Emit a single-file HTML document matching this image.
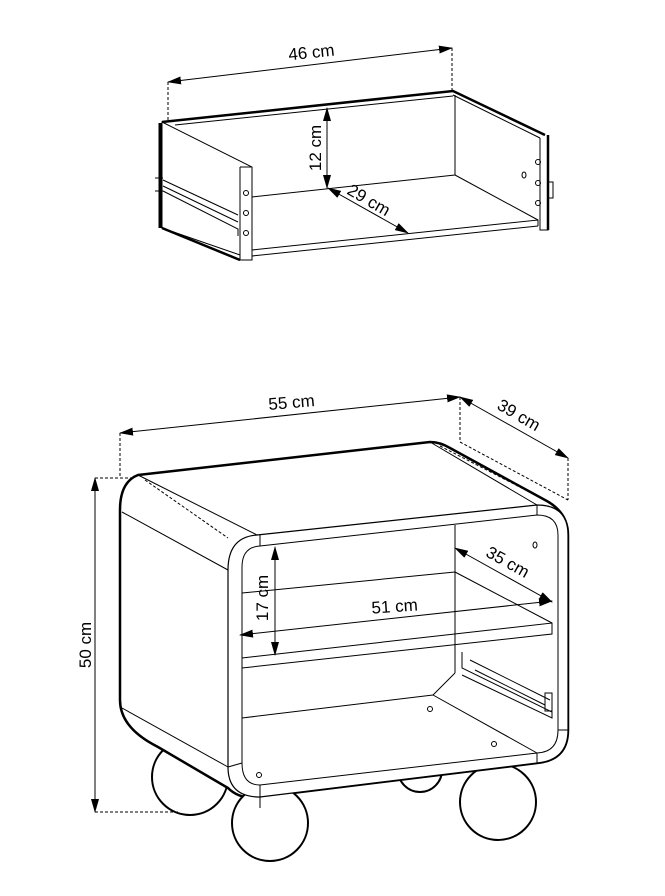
<!DOCTYPE html>
<html><head><meta charset="utf-8"><style>
html,body{margin:0;padding:0;background:#fff}
svg{display:block}
text{font-family:"Liberation Sans",Arial,sans-serif;font-size:17px;fill:#000}
</style></head><body>
<svg width="665" height="896" viewBox="0 0 665 896" xmlns="http://www.w3.org/2000/svg">
<defs>
<marker id="a" markerWidth="14" markerHeight="8" refX="13" refY="4" orient="auto-start-reverse" markerUnits="userSpaceOnUse"><path d="M0,0 L14,4 L0,8 Z" fill="#000"/></marker>
</defs>
<g fill="none" stroke="#000" stroke-width="1">
<!-- DRAWER -->
<line x1="168" y1="82" x2="168" y2="122" stroke-dasharray="3,2"/>
<line x1="452" y1="48" x2="452" y2="90" stroke-dasharray="3,2"/>
<line x1="168" y1="82" x2="452" y2="48" marker-start="url(#a)" marker-end="url(#a)"/>
<path d="M162,122 L453,91 L545,135" stroke-width="2.5"/>
<line x1="175" y1="125" x2="453" y2="96"/>
<path d="M162,122 L252,167 L252,260 L240,260 L240,255 L162,228 Z" fill="#fff"/>
<path d="M160,123 L160,228" stroke-width="3"/>
<path d="M162,228 L240,260" stroke-width="2.5"/>
<line x1="252" y1="167" x2="240" y2="167"/>
<line x1="240" y1="167" x2="240" y2="255"/>
<line x1="455" y1="95" x2="455" y2="175"/>
<line x1="252" y1="197" x2="455" y2="175"/>
<line x1="455" y1="175" x2="538" y2="220"/>
<path d="M252,250 L538,220 L538,226" />
<path d="M252,256 L538,226" />
<path d="M453,95 L540,138"/>
<path d="M540,138 L540,230 L548,230 L548,135" />
<path d="M548,135 L548,230" stroke-width="2.5"/>
<path d="M548,182 L553,182 L553,198 L548,198"/>
<ellipse cx="524" cy="175" rx="2" ry="3"/>
<circle cx="246" cy="193" r="2.5"/><circle cx="246" cy="213" r="2.5"/><circle cx="246" cy="233" r="2.5"/>
<circle cx="538" cy="162" r="2.5"/><circle cx="538" cy="183" r="2.5"/><circle cx="538" cy="203" r="2.5"/>
<path d="M163,180 L238,215 M163,186 L238,222 M163,191 L238,229 L238,236"/>
<path d="M155,178 L163,178 M155,191 L163,191"/>
<line x1="327" y1="108" x2="327" y2="188" marker-start="url(#a)" marker-end="url(#a)"/>
<line x1="328" y1="188" x2="408" y2="233" marker-start="url(#a)" marker-end="url(#a)"/>

<!-- NIGHTSTAND -->
<line x1="120" y1="433" x2="120" y2="478" stroke-dasharray="3,2"/>
<line x1="460" y1="397" x2="460" y2="442" stroke-dasharray="3,2"/>
<line x1="568" y1="458" x2="568" y2="500" stroke-dasharray="3,2"/>
<line x1="460" y1="442" x2="568" y2="500" stroke-dasharray="3,2"/>
<line x1="95" y1="478" x2="138" y2="478" stroke-dasharray="3,2"/>
<line x1="95" y1="812" x2="180" y2="812" stroke-dasharray="3,2"/>
<line x1="120" y1="433" x2="460" y2="397" marker-start="url(#a)" marker-end="url(#a)"/>
<line x1="460" y1="397" x2="568" y2="458" marker-start="url(#a)" marker-end="url(#a)"/>
<line x1="95" y1="478" x2="95" y2="812" marker-start="url(#a)" marker-end="url(#a)"/>
<!-- feet -->
<circle cx="190" cy="777" r="38" stroke-width="2"/>
<circle cx="420" cy="770" r="22" stroke-width="2"/>
<circle cx="498" cy="802" r="38" stroke-width="2" fill="#fff"/>
<!-- body -->
<path d="M138,475 L430,442 Q440,442 450,448 L545,500 Q568,512 568,535 L568,730 Q568,760 537,763 L260,797 Q240,800 228,788 L158,747 Q120,728 120,700 L120,510 Q120,482 138,475 Z" fill="#fff" stroke-width="2.5"/>
<circle cx="270" cy="823" r="38" stroke-width="2" fill="#fff"/>
<path d="M260,797 L260,808" />
<!-- front frame -->
<path d="M257,535 L537,505 Q568,505 568,535 L568,730 Q568,760 537,763 L260,797 Q228,797 228,767 L228,570 Q228,537 257,535 Z" fill="#fff" stroke-width="1.2"/>
<path d="M260,546 L537,515 Q558,515 558,535 L558,730 Q558,752 537,753 L260,785 Q242,785 242,763 L242,567 Q242,547 260,546 Z" fill="#fff"/>
<line x1="260" y1="535" x2="260" y2="546"/><line x1="537" y1="505" x2="537" y2="515"/>
<line x1="228" y1="767" x2="242" y2="763"/><line x1="260" y1="785" x2="260" y2="797"/>
<line x1="537" y1="753" x2="537" y2="763"/><line x1="558" y1="730" x2="568" y2="730"/>
<!-- side panel lines -->
<line x1="138" y1="475" x2="257" y2="535"/>
<line x1="122" y1="512" x2="228" y2="570"/>
<line x1="122" y1="708" x2="228" y2="767"/>
<line x1="145" y1="480" x2="228" y2="538" stroke-dasharray="3,2"/>
<line x1="430" y1="442" x2="537" y2="505"/>
<line x1="440" y1="446" x2="545" y2="500" stroke-dasharray="3,2"/>
<!-- interior -->
<line x1="455" y1="525" x2="455" y2="673"/>
<line x1="455" y1="673" x2="433" y2="695"/>
<line x1="433" y1="695" x2="242" y2="718"/>
<line x1="433" y1="695" x2="537" y2="753"/>
<line x1="242" y1="593" x2="455" y2="572"/>
<line x1="455" y1="572" x2="552" y2="623"/>
<path d="M242,658 L552,623 L552,634 L242,668"/>
<ellipse cx="535" cy="545" rx="2" ry="3"/>
<circle cx="430" cy="709" r="2.5"/><circle cx="259" cy="775" r="2.5"/><circle cx="494" cy="744" r="2.5"/>
<path d="M462,652 L462,668 L552,712 L552,718 L462,675 M470,660 L550,700 M475,670 L545,705"/>
<rect x="545" y="693" width="7" height="18"/>
<line x1="275" y1="547" x2="275" y2="655" marker-start="url(#a)" marker-end="url(#a)"/>
<line x1="240" y1="635" x2="552" y2="601" marker-start="url(#a)" marker-end="url(#a)"/>
<line x1="455" y1="548" x2="552" y2="602" marker-start="url(#a)" marker-end="url(#a)"/>
</g>
<text x="312" y="58" text-anchor="middle" transform="rotate(-6 312 58)">46 cm</text>
<text transform="translate(321,148) rotate(-90)" text-anchor="middle">12 cm</text>
<text transform="translate(366,205) rotate(30)" text-anchor="middle">29 cm</text>
<text x="292" y="408" text-anchor="middle" transform="rotate(-5 292 408)">55 cm</text>
<text transform="translate(516,420) rotate(30)" text-anchor="middle">39 cm</text>
<text transform="translate(91,645) rotate(-90)" text-anchor="middle">50 cm</text>
<text transform="translate(268,598) rotate(-90)" text-anchor="middle">17 cm</text>
<text x="395" y="612" text-anchor="middle" transform="rotate(-4 395 612)">51 cm</text>
<text transform="translate(505,567) rotate(29)" text-anchor="middle">35 cm</text>
</svg>
</body></html>
